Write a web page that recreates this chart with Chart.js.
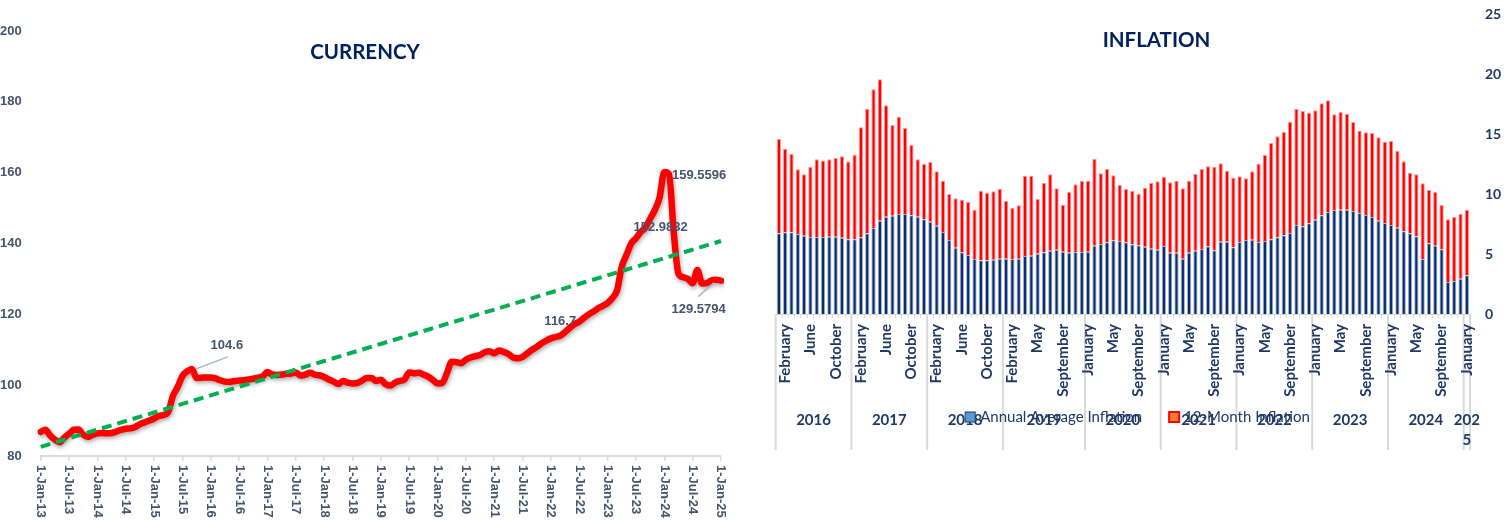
<!DOCTYPE html>
<html><head><meta charset="utf-8">
<script src="https://cdn.jsdelivr.net/npm/chart.js@4.4.1/dist/chart.umd.min.js"></script>
<style>
html,body{margin:0;padding:0;background:#fff;width:1509px;height:521px;overflow:hidden}
#c1{position:absolute;left:0;top:0}
#c2{position:absolute;left:760px;top:0}
</style></head><body>
<canvas id="c1" width="760" height="521"></canvas>
<canvas id="c2" width="749" height="521"></canvas>
<script>
// ---------------- CURRENCY DATA ----------------
const currencyDates = [
'1-Jan-13','1-Feb-13','1-Mar-13','1-Apr-13','1-May-13','1-Jun-13','1-Jul-13','1-Aug-13','1-Sep-13','1-Oct-13','1-Nov-13','1-Dec-13',
'1-Jan-14','1-Feb-14','1-Mar-14','1-Apr-14','1-May-14','1-Jun-14','1-Jul-14','1-Aug-14','1-Sep-14','1-Oct-14','1-Nov-14','1-Dec-14',
'1-Jan-15','1-Feb-15','1-Mar-15','1-Apr-15','1-May-15','1-Jun-15','1-Jul-15','1-Aug-15','1-Sep-15','1-Oct-15','1-Nov-15','1-Dec-15',
'1-Jan-16','1-Feb-16','1-Mar-16','1-Apr-16','1-May-16','1-Jun-16','1-Jul-16','1-Aug-16','1-Sep-16','1-Oct-16','1-Nov-16','1-Dec-16',
'1-Jan-17','1-Feb-17','1-Mar-17','1-Apr-17','1-May-17','1-Jun-17','1-Jul-17','1-Aug-17','1-Sep-17','1-Oct-17','1-Nov-17','1-Dec-17',
'1-Jan-18','1-Feb-18','1-Mar-18','1-Apr-18','1-May-18','1-Jun-18','1-Jul-18','1-Aug-18','1-Sep-18','1-Oct-18','1-Nov-18','1-Dec-18',
'1-Jan-19','1-Feb-19','1-Mar-19','1-Apr-19','1-May-19','1-Jun-19','1-Jul-19','1-Aug-19','1-Sep-19','1-Oct-19','1-Nov-19','1-Dec-19',
'1-Jan-20','1-Feb-20','1-Mar-20','1-Apr-20','1-May-20','1-Jun-20','1-Jul-20','1-Aug-20','1-Sep-20','1-Oct-20','1-Nov-20','1-Dec-20',
'1-Jan-21','1-Feb-21','1-Mar-21','1-Apr-21','1-May-21','1-Jun-21','1-Jul-21','1-Aug-21','1-Sep-21','1-Oct-21','1-Nov-21','1-Dec-21',
'1-Jan-22','1-Feb-22','1-Mar-22','1-Apr-22','1-May-22','1-Jun-22','1-Jul-22','1-Aug-22','1-Sep-22','1-Oct-22','1-Nov-22','1-Dec-22',
'1-Jan-23','1-Feb-23','1-Mar-23','1-Apr-23','1-May-23','1-Jun-23','1-Jul-23','1-Aug-23','1-Sep-23','1-Oct-23','1-Nov-23','1-Dec-23',
'1-Jan-24','1-Feb-24','1-Mar-24','1-Apr-24','1-May-24','1-Jun-24','1-Jul-24','1-Aug-24','1-Sep-24','1-Oct-24','1-Nov-24','1-Dec-24',
'1-Jan-25'];
const currencyValues = [
86.8, 87.4, 85.8, 84.6, 83.9, 85.2, 86.3, 87.4, 87.5, 86.0, 85.4, 86.0,
86.4, 86.5, 86.4, 86.5, 86.9, 87.4, 87.7, 87.8, 88.2, 89.0, 89.5, 90.0,
90.6, 91.3, 91.6, 92.5, 97.0, 99.5, 102.6, 103.9, 104.6, 102.0, 102.1, 102.2,
102.2, 101.9, 101.4, 101.0, 100.9, 101.2, 101.3, 101.4, 101.6, 101.8, 102.1, 102.5,
103.7, 103.0, 102.9, 103.0, 103.2, 103.3, 103.6, 102.7, 103.0, 103.5, 103.0, 102.8,
102.3, 101.6, 101.0, 100.3, 101.2, 100.7, 100.5, 100.6, 101.3, 102.0, 102.0, 101.2,
101.5, 100.3, 99.9, 100.7, 101.2, 101.6, 103.6, 103.4, 103.5, 103.0, 102.4, 101.5,
100.5, 100.6, 103.5, 106.6, 106.5, 106.2, 107.2, 107.8, 108.2, 108.5, 109.3, 109.6,
109.0, 109.8, 109.4, 108.8, 107.8, 107.6, 108.0, 109.0, 110.0, 110.8, 111.8, 112.6,
113.2, 113.6, 114.0, 115.0, 116.2, 117.3, 117.9, 119.0, 120.0, 120.8, 121.7, 122.4,
123.2, 124.6, 126.8, 133.5, 136.8, 140.0, 141.5, 143.3, 144.5, 147.0, 149.5, 153.0,
160.2, 159.6, 143.0, 131.5, 130.5, 130.0, 128.8, 132.5, 128.7, 128.8, 129.6, 129.8,
129.5];
const trendEnds = [82.6, 140.7];            // trend line value at first and last date
const currencyTicks = [80, 200, 20];          // min, max, step
const noteIndex = [32, 114, 131, 133, 142];   // data points carrying a label
const noteTexts = ['104.6', '116.7', '152.9832', '159.5596', '129.5794'];

// ---------------- INFLATION DATA ----------------
const inflationMonths = [
'January','February','March','April','May','June','July','August','September','October','November','December',
'January','February','March','April','May','June','July','August','September','October','November','December',
'January','February','March','April','May','June','July','August','September','October','November','December',
'January','February','March','April','April','May','June','July','August','September','October','November','December',
'January','February','March','April','May','June','July','August','September','October','November','December',
'January','February','March','April','May','June','July','August','September','October','November','December',
'January','February','March','April','May','June','July','August','September','October','November','December',
'January','February','March','April','May','June','July','August','September','October','November','December',
'January','February','March','April','May','June','July','August','September','October','November','December',
'January'];
const yearLabels = ['2016','2017','2018','2019','2020','2021','2022','2023','2024',['202','5']];
const yearSizes = [12,12,12,13,12,12,12,12,12,1];
const annualAverage = [
6.72,6.81,6.81,6.67,6.53,6.42,6.42,6.42,6.44,6.44,6.36,6.22,
6.22,6.39,6.72,7.17,7.78,8.11,8.19,8.33,8.33,8.22,8.11,7.89,
7.69,7.36,6.83,6.17,5.53,5.14,4.92,4.58,4.47,4.47,4.53,4.61,
4.61,4.58,4.61,4.83,4.86,5.03,5.14,5.28,5.36,5.19,5.11,5.17,5.17,
5.19,5.69,5.83,5.97,6.14,6.08,5.97,5.81,5.72,5.61,5.44,5.36,
5.67,5.11,5.11,4.61,5.11,5.28,5.42,5.64,5.31,6.03,6.03,5.56,
6.00,6.17,6.19,6.00,6.08,6.22,6.39,6.56,6.75,7.42,7.31,7.56,
7.86,8.22,8.50,8.67,8.69,8.69,8.58,8.42,8.25,8.08,7.78,7.58,
7.42,7.19,6.89,6.72,6.47,4.58,5.89,5.69,5.39,2.67,2.75,2.94,
3.22];
const twelveMonth = [
7.86,6.97,6.55,5.39,5.11,5.86,6.47,6.38,6.45,6.56,6.78,6.48,
7.06,9.17,10.36,11.55,11.78,9.28,7.56,8.11,7.17,5.86,4.78,4.61,
4.98,4.53,4.28,3.83,4.11,4.39,4.41,4.11,5.81,5.64,5.69,5.83,
4.81,4.28,4.45,6.70,6.67,4.55,5.78,6.36,5.11,3.92,5.08,5.64,5.91,
5.92,7.25,5.89,6.11,5.42,4.70,4.45,4.47,4.31,4.92,5.48,5.70,
5.77,5.86,6.00,5.86,6.00,6.41,6.66,6.67,6.97,6.53,5.91,5.80,
5.47,5.14,5.70,6.53,7.17,8.03,8.42,8.61,9.28,9.69,9.61,9.22,
9.11,9.34,9.31,7.97,8.14,8.00,7.42,6.86,6.89,7.00,6.94,6.78,
7.00,6.42,5.83,5.06,5.17,6.31,4.44,4.48,3.69,5.22,5.33,5.42,
5.47];
const inflationTicks = [0, 25, 5];

// ---------------- CURRENCY CHART ----------------
const isTickMonth = d => d.indexOf('-Jan-') >= 0 || d.indexOf('-Jul-') >= 0;
const SLATE = '#44546A';
const NAVY = '#1F3864';

// label offsets (px) relative to their data point, and optional leader lines
const noteLayout = [
  {dx: 35, dy: -23, leader: [4, 0, 36, -12]},
  {dx: -19, dy: 0},
  {dx: 1, dy: 30},
  {dx: 30, dy: 1},
  {dx: -13, dy: 29, leader: [2.6, 2.3, -13.4, 16.3]}
];

const shadowPlugin = {
  id: 'lineShadow',
  beforeDatasetDraw(chart, args) {
    if (args.index !== 1) return;
    const c = chart.ctx; c.save();
    c.shadowColor = 'rgba(0,0,0,0.35)'; c.shadowBlur = 4; c.shadowOffsetX = 1; c.shadowOffsetY = 2;
  },
  afterDatasetDraw(chart, args) { if (args.index === 1) chart.ctx.restore(); }
};

const currencyDecor = {
  id: 'currencyDecor',
  afterDraw(chart) {
    const {ctx, scales: {x, y}} = chart;
    ctx.save();
    ctx.font = 'bold 20.5px Lato';
    ctx.fillStyle = '#002060'; ctx.textAlign = 'center'; ctx.textBaseline = 'middle';
    ctx.fillText('CURRENCY', 365, 52);

    ctx.font = 'bold 13px "Liberation Sans"'; ctx.fillStyle = SLATE;
    currencyDates.forEach((d, i) => {
      if (!isTickMonth(d)) return;
      const px = x.getPixelForValue(i);
      ctx.save(); ctx.translate(px, x.top + 9); ctx.rotate(Math.PI / 2);
      ctx.textAlign = 'left'; ctx.textBaseline = 'middle';
      ctx.fillText(d, 0, 0); ctx.restore();
    });

    noteIndex.forEach((idx, k) => {
      const px = x.getPixelForValue(idx), py = y.getPixelForValue(currencyValues[idx]);
      const L = noteLayout[k];
      if (L.leader) {
        ctx.strokeStyle = '#A9B4C4'; ctx.lineWidth = 1.5; ctx.beginPath();
        ctx.moveTo(px + L.leader[0], py + L.leader[1]);
        ctx.lineTo(px + L.leader[2], py + L.leader[3]); ctx.stroke();
      }
      ctx.fillStyle = SLATE; ctx.textAlign = 'center'; ctx.textBaseline = 'middle';
      ctx.fillText(noteTexts[k], px + L.dx, py + L.dy);
    });
    ctx.restore();
  }
};

new Chart(document.getElementById('c1'), {
  type: 'line',
  data: {
    labels: currencyDates,
    datasets: [
      {label: 'Trend', data: [{x: currencyDates[0], y: trendEnds[0]}, {x: currencyDates[currencyDates.length - 1], y: trendEnds[1]}],
       borderColor: '#00B050', borderWidth: 4, borderDash: [10, 6], pointRadius: 0, tension: 0, order: 0},
      {label: 'Currency', data: currencyValues, borderColor: '#FF0000', borderWidth: 6.5, pointRadius: 0,
       cubicInterpolationMode: 'monotone', borderJoinStyle: 'round', borderCapStyle: 'round', order: 1}
    ]
  },
  options: {
    responsive: false, animation: false,
    layout: {padding: {left: 0, right: 39, top: 31, bottom: 0}},
    plugins: {legend: {display: false}, tooltip: {enabled: false}},
    scales: {
      x: {type: 'category', offset: false,
          ticks: {display: false, autoSkip: false},
          grid: {drawOnChartArea: false, drawTicks: true, tickLength: 5, lineWidth: 1.5,
                 color: c => (isTickMonth(currencyDates[c.index] || '') ? '#D6DCE4' : 'rgba(0,0,0,0)')},
          border: {display: true, color: '#D6DCE4', width: 2},
          afterFit: s => { s.height = 65; }},
      y: {min: currencyTicks[0], max: currencyTicks[1],
          ticks: {stepSize: currencyTicks[2], padding: 11, color: SLATE,
                  font: {family: 'Liberation Sans', size: 13, weight: 'bold'}},
          grid: {display: false}, border: {display: false},
          afterFit: s => { s.width = 40.7; }}
    }
  },
  plugins: [shadowPlugin, currencyDecor]
});

// ---------------- INFLATION CHART ----------------
const legendFill = ['#5B9BD5', '#ED7D31'];
const legendStroke = ['#1F3864', '#FF0000'];

const inflationDecor = {
  id: 'inflationDecor',
  beforeDraw(chart) {
    const {ctx, scales: {x}} = chart;
    const slot = x.getPixelForValue(1) - x.getPixelForValue(0);
    ctx.save();
    ctx.strokeStyle = '#D9D9D9'; ctx.lineWidth = 2;
    ctx.font = 'bold 15px Lato'; ctx.fillStyle = NAVY;
    ctx.textAlign = 'center'; ctx.textBaseline = 'middle';
    let start = 0;
    yearSizes.forEach((n, g) => {
      const left = x.getPixelForValue(start) - slot / 2;
      const right = x.getPixelForValue(start + n - 1) + slot / 2;
      const edges = (g === yearSizes.length - 1) ? [left, right] : [left];
      edges.forEach(ex => { ctx.beginPath(); ctx.moveTo(ex, x.top); ctx.lineTo(ex, 450); ctx.stroke(); });
      const lab = Array.isArray(yearLabels[g]) ? yearLabels[g] : [yearLabels[g]];
      lab.forEach((t, k) => ctx.fillText(t, (left + right) / 2, 420 + k * 20));
      start += n;
    });
    ctx.restore();
  },
  afterDraw(chart) {
    const ctx = chart.ctx;
    ctx.save();
    ctx.font = 'bold 20.5px Lato'; ctx.fillStyle = '#002060';
    ctx.textAlign = 'center'; ctx.textBaseline = 'middle';
    ctx.fillText('INFLATION', 396.5, 40);

    // legend
    ctx.font = '15px Lato';
    const names = chart.data.datasets.map(d => d.label);
    const box = 10, gapText = 5, gapItem = 27;
    const widths = names.map(t => ctx.measureText(t).width);
    const total = widths.reduce((a, w) => a + box + gapText + w, 0) + gapItem * (names.length - 1);
    let cx = 377.5 - total / 2;
    const cy = 417;
    names.forEach((t, i) => {
      ctx.fillStyle = legendFill[i]; ctx.strokeStyle = legendStroke[i]; ctx.lineWidth = i === 0 ? 1 : 2;
      ctx.fillRect(cx, cy - 5, box, box); ctx.strokeRect(cx, cy - 5, box, box);
      ctx.fillStyle = NAVY; ctx.textAlign = 'left'; ctx.textBaseline = 'middle';
      ctx.fillText(t, cx + box + gapText, cy);
      cx += box + gapText + widths[i] + gapItem;
    });
    ctx.restore();
  }
};

new Chart(document.getElementById('c2'), {
  type: 'bar',
  data: {
    labels: inflationMonths,
    datasets: [
      {label: 'Annual Average Inflation', data: annualAverage, backgroundColor: '#0C2D6B',
       borderColor: 'rgba(150,170,210,0.9)', borderWidth: 1, barPercentage: 0.68, categoryPercentage: 1},
      {label: '12-Month Inflation', data: twelveMonth, backgroundColor: '#FF0000',
       borderColor: 'rgba(255,140,140,0.95)', borderWidth: 1, barPercentage: 0.68, categoryPercentage: 1}
    ]
  },
  options: {
    responsive: false, animation: false,
    layout: {padding: {left: 15.7, right: 8, top: 14, bottom: 107}},
    plugins: {tooltip: {enabled: false}, legend: {display: false}},
    scales: {
      x: {stacked: true,
          ticks: {autoSkip: false, minRotation: 90, maxRotation: 90, padding: 6, color: NAVY,
                  font: {family: 'Lato', size: 15, weight: 'bold'},
                  callback: (v, i) => (i % 4 === 1 ? inflationMonths[i] : '')},
          grid: {drawOnChartArea: false, drawTicks: true, tickLength: 4, color: '#D9D9D9'},
          border: {display: true, color: '#D9D9D9'},
          afterFit: s => { s.height = 100; s.paddingLeft = 0; s.paddingRight = 0; }},
      y: {stacked: true, position: 'right', min: inflationTicks[0], max: inflationTicks[1],
          ticks: {stepSize: inflationTicks[2], padding: 15, color: NAVY,
                  font: {family: 'Lato', size: 14, weight: 'bold'}},
          grid: {display: false, drawTicks: false}, border: {display: false},
          afterFit: s => { s.width = 31; s.paddingTop = 0; s.paddingBottom = 0; }}
    }
  },
  plugins: [inflationDecor]
});
</script>
</body></html>
